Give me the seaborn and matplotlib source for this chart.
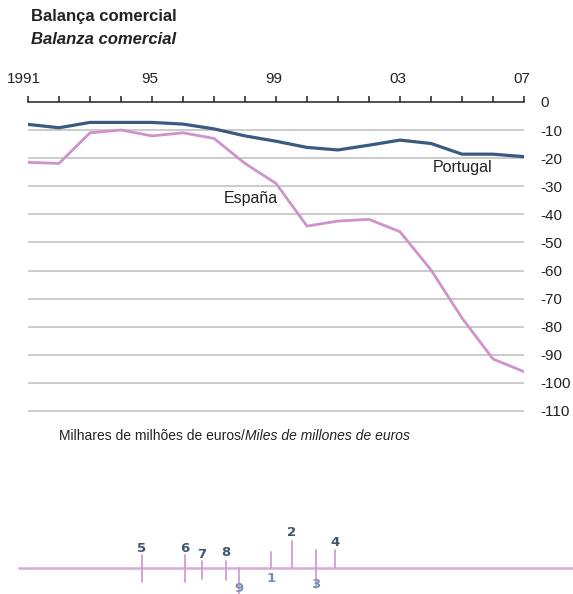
import matplotlib
matplotlib.use("Agg")
import matplotlib.pyplot as plt
import matplotlib.transforms as mtransforms
import pandas as pd
import seaborn as sns

# Trade balance, thousands of millions of euros
years = list(range(1991, 2008))
portugal = [-8.0, -9.2, -7.3, -7.3, -7.3, -7.9, -9.6, -12.1, -14.0, -16.2,
            -17.1, -15.4, -13.6, -14.8, -18.6, -18.6, -19.5]
espana = [-21.5, -21.9, -11.0, -10.0, -12.1, -11.0, -13.0, -21.9, -29.0, -44.2,
          -42.4, -41.8, -46.2, -59.8, -76.9, -91.5, -96.0]

year_labels = {1991: "1991", 1995: "95", 1999: "99", 2003: "03", 2007: "07"}
y_ticks = list(range(0, -120, -10))

# Bottom strip: numbered markers along a baseline
strip_labels = ["5", "6", "7", "8", "9", "1", "2", "3", "4"]
strip_pos = [142, 185, 202, 226, 239, 271, 292, 316, 335]
strip_top = [13, 13, 7, 7, 0, 16, 27, 18, 18]
strip_bottom = [-14, -14, -11, -12, -26, 0, 0, -20, 0]
strip_label_y = [20, 20, 14, 15, -21, -11, 35, -17, 25]
strip_dark = [True, True, True, True, False, False, True, False, True]

sns.set_theme(style="white")
plt.rcParams["font.family"] = ["Liberation Sans", "DejaVu Sans"]

C_PT = "#3b5a7f"
C_ES = "#cf93cc"
C_GRID = "#bdbdbd"
C_TEXT = "#222222"

fig = plt.figure(figsize=(5.73, 5.94), dpi=100)
ax = fig.add_axes([28 / 573, 1 - 411 / 594, 496 / 573, (411 - 101.9) / 594])

df = pd.DataFrame({
    "year": years * 2,
    "value": espana + portugal,
    "country": ["España"] * len(years) + ["Portugal"] * len(years),
})
sns.lineplot(data=df, x="year", y="value", hue="country",
             palette={"España": C_ES, "Portugal": C_PT},
             hue_order=["España", "Portugal"], linewidth=2.0,
             legend=False, ax=ax, zorder=3)
ax.lines[-1].set_linewidth(2.3)

ax.hlines([t for t in y_ticks if t != 0], years[0], years[-1],
          colors=C_GRID, linewidth=1.1, clip_on=False, zorder=1)

ax.set_xlim(years[0], years[-1])
ax.set_ylim(-110, 0)
ax.set_xlabel("")
ax.set_ylabel("")

for side in ["left", "right", "bottom"]:
    ax.spines[side].set_visible(False)
ax.spines["top"].set_color(C_TEXT)
ax.spines["top"].set_linewidth(1.1)

ax.xaxis.tick_top()
ax.set_xticks(years)
ax.set_xticklabels([year_labels.get(y, "") for y in years])
ax.tick_params(axis="x", top=True, bottom=False, direction="out", length=4.5,
               width=1.1, color=C_TEXT, pad=7, labelsize=11, labelcolor=C_TEXT)
shift = mtransforms.ScaledTranslation(-2.5 / 100, 0, fig.dpi_scale_trans)
for i, lab in enumerate(ax.get_xticklabels()):
    extra = -2 / 100 if i == 0 else 0
    lab.set_transform(lab.get_transform() + shift +
                      mtransforms.ScaledTranslation(extra, 0, fig.dpi_scale_trans))

ax.yaxis.tick_right()
ax.set_yticks(y_ticks)
ax.set_yticklabels([str(t) for t in y_ticks])
ax.tick_params(axis="y", right=False, left=False, length=0, pad=11.5,
               labelsize=11, labelcolor=C_TEXT)
ax.grid(False)

ax.text(2004.06, -23.5, "Portugal", fontsize=11.5, color=C_TEXT, va="center")
ax.text(1997.32, -34.2, "España", fontsize=11.5, color=C_TEXT, va="center")

fig.text(31 / 573, 1 - 17 / 594, "Balança comercial", fontsize=12,
         fontweight="bold", color=C_TEXT, va="center")
fig.text(31 / 573, 1 - 40 / 594, "Balanza comercial", fontsize=12,
         fontweight="bold", style="italic", color=C_TEXT, va="center")

note_y = 1 - 436 / 594
t1 = fig.text(59 / 573, note_y, "Milhares de milhões de euros/", fontsize=10,
              color=C_TEXT, va="center")
fig.canvas.draw()
bb = t1.get_window_extent()
fig.text(bb.x1 / fig.bbox.width, note_y, "Miles de millones de euros",
         fontsize=10, style="italic", color=C_TEXT, va="center")

# Strip along the bottom
ax2 = fig.add_axes([0, 0, 1, 74 / 594])
ax2.set_xlim(0, 573)
ax2.set_ylim(-26, 48)
ax2.axis("off")
ax2.plot([18, 573], [0, 0], color="#dcaad8", linewidth=1.8, solid_capstyle="butt")
for lab, x, top, bot, ly, dark in zip(strip_labels, strip_pos, strip_top,
                                      strip_bottom, strip_label_y, strip_dark):
    ax2.plot([x, x], [bot, top], color="#d69bd2", linewidth=1.3)
    ax2.text(x, ly, lab, ha="center", va="center", fontsize=9.5,
             fontweight="bold", family="DejaVu Sans",
             color="#3e5573" if dark else "#7591b8", clip_on=False)

fig.savefig("out.png", dpi=100)
